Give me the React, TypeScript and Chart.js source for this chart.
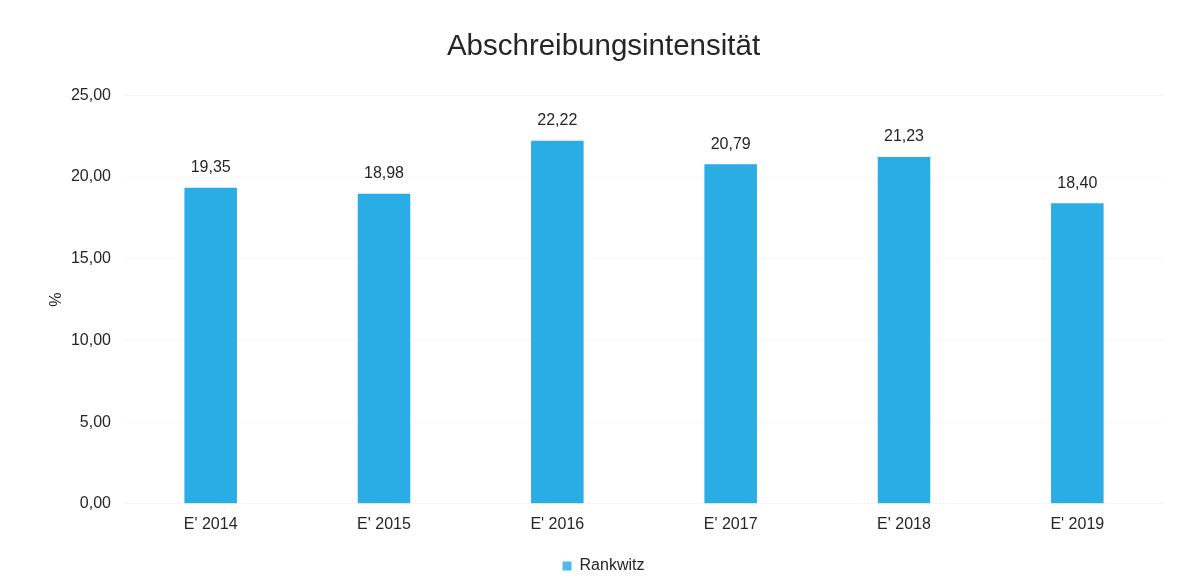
import React, { useEffect, useRef } from "react";
import { Chart, registerables } from "chart.js";

Chart.register(...registerables);

const categories = ["E' 2014", "E' 2015", "E' 2016", "E' 2017", "E' 2018", "E' 2019"];
const values = [19.35, 18.98, 22.22, 20.79, 21.23, 18.4];
const seriesName = "Rankwitz";
const titleText = "Abschreibungsintensität";
const yAxisTitle = "%";

const FONT = "'Liberation Sans', Arial, sans-serif";
const TEXT = "#262626";
const BAR = "#2aace4";

const fmt = (v: number) => v.toFixed(2).replace(".", ",");

const dataLabels = {
  id: "dataLabels",
  afterDatasetsDraw(chart: any) {
    const ctx = chart.ctx;
    const meta = chart.getDatasetMeta(0);
    ctx.save();
    ctx.font = `16px ${FONT}`;
    ctx.fillStyle = TEXT;
    ctx.textAlign = "center";
    ctx.textBaseline = "middle";
    meta.data.forEach((el: any, i: number) => {
      ctx.fillText(fmt(values[i]), el.x, el.y - 20);
    });
    ctx.restore();
  },
};

export default function App() {
  const ref = useRef<HTMLCanvasElement>(null);
  useEffect(() => {
    document.body.style.margin = "0";
    const chart = new Chart(ref.current!, {
      type: "bar",
      data: {
        labels: categories,
        datasets: [
          {
            label: seriesName,
            data: values,
            backgroundColor: BAR,
            barPercentage: 0.303,
            categoryPercentage: 1,
          },
        ],
      },
      options: {
        responsive: false,
        animation: false,
        layout: { padding: { left: 43, right: 21, top: 0, bottom: 0 } },
        plugins: {
          title: {
            display: true,
            text: titleText,
            color: TEXT,
            font: { family: FONT, size: 29.5, weight: "normal" },
            padding: { top: 29, bottom: 31 },
          },
          legend: {
            position: "bottom",
            labels: {
              color: TEXT,
              font: { family: FONT, size: 16 },
              boxWidth: 9,
              boxHeight: 9,
              padding: 10,
              generateLabels: () => [
                {
                  text: seriesName,
                  fillStyle: "#4fb9ee",
                  strokeStyle: "#4fb9ee",
                  lineWidth: 0,
                  fontColor: TEXT,
                  datasetIndex: 0,
                  hidden: false,
                } as any,
              ],
            },
          },
          tooltip: { enabled: false },
        },
        scales: {
          x: {
            grid: { display: false, drawTicks: false },
            border: { display: false },
            ticks: { color: TEXT, font: { family: FONT, size: 16 }, padding: 11 },
            afterFit: (scale: any) => {
              scale.height = scale.height + 3;
            },
          },
          y: {
            min: 0,
            max: 25,
            grid: { color: "rgba(0,0,0,0.03)", drawTicks: false },
            border: { display: false },
            ticks: {
              stepSize: 5,
              color: TEXT,
              font: { family: FONT, size: 16 },
              padding: 13,
              callback: (v: any) => fmt(Number(v)),
            },
            title: {
              display: true,
              text: yAxisTitle,
              color: TEXT,
              font: { family: FONT, size: 16 },
            },
            afterFit: (scale: any) => {
              scale.width = 81;
            },
          },
        },
      },
      plugins: [dataLabels],
    });
    return () => chart.destroy();
  }, []);
  return (
    <div style={{ width: 1185, height: 584 }}>
      <canvas ref={ref} width={1185} height={584} />
    </div>
  );
}
